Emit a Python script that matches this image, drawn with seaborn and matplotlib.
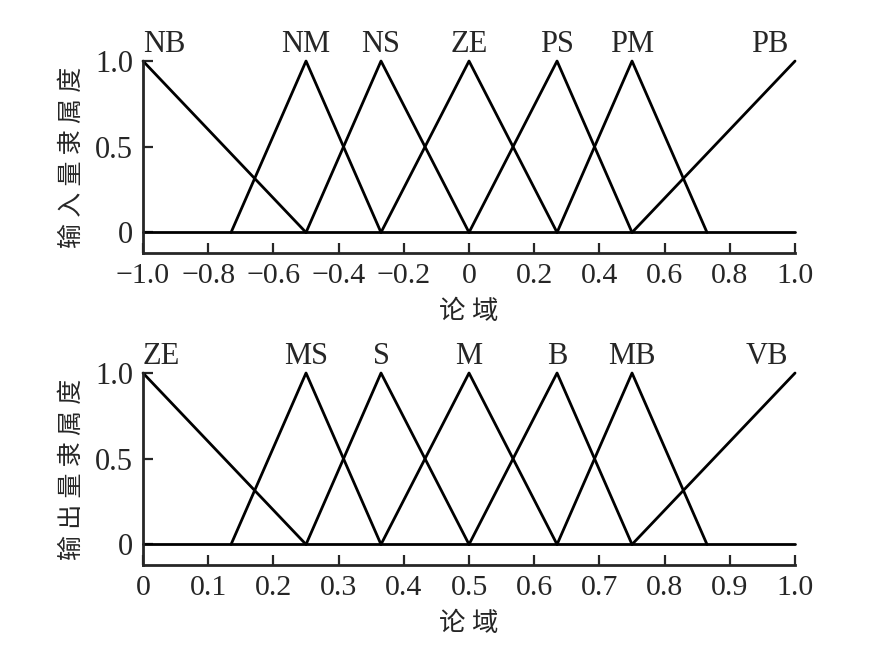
import matplotlib
matplotlib.use("Agg")
import matplotlib.pyplot as plt
import pandas as pd
import seaborn as sns

# membership functions: breakpoints (x) and grades (mu)
in_names = ["NB", "NM", "NS", "ZE", "PS", "PM", "PB"]
in_x = [
    [-1.0, -0.5],
    [-0.73, -0.5, -0.27],
    [-0.5, -0.27, 0.0],
    [-0.27, 0.0, 0.27],
    [0.0, 0.27, 0.5],
    [0.27, 0.5, 0.73],
    [0.5, 1.0],
]
out_names = ["ZE", "MS", "S", "M", "B", "MB", "VB"]
out_x = [
    [0.0, 0.25],
    [0.135, 0.25, 0.365],
    [0.25, 0.365, 0.5],
    [0.365, 0.5, 0.635],
    [0.5, 0.635, 0.75],
    [0.635, 0.75, 0.865],
    [0.75, 1.0],
]
mu_left = [1.0, 0.0]
mu_tri = [0.0, 1.0, 0.0]
mu_right = [0.0, 1.0]

in_ticks = [-1.0, -0.8, -0.6, -0.4, -0.2, 0.0, 0.2, 0.4, 0.6, 0.8, 1.0]
in_ticklabels = ["\u22121.0", "\u22120.8", "\u22120.6", "\u22120.4", "\u22120.2",
                 "0", "0.2", "0.4", "0.6", "0.8", "1.0"]
out_ticks = [0.0, 0.1, 0.2, 0.3, 0.4, 0.5, 0.6, 0.7, 0.8, 0.9, 1.0]
out_ticklabels = ["0", "0.1", "0.2", "0.3", "0.4", "0.5", "0.6", "0.7", "0.8", "0.9", "1.0"]
y_ticks = [0.0, 0.5, 1.0]
y_ticklabels = ["0", "0.5", "1.0"]


def to_frame(names, xs):
    rows = []
    n = len(names)
    for i, (name, x) in enumerate(zip(names, xs)):
        mu = mu_left if i == 0 else (mu_right if i == n - 1 else mu_tri)
        for xv, mv in zip(x, mu):
            rows.append(dict(set=name, x=xv, mu=mv))
    return pd.DataFrame(rows)


sns.set_style("ticks")
plt.rcParams["font.family"] = ["Liberation Serif", "Noto Sans CJK SC"]
plt.rcParams["xtick.direction"] = "in"
plt.rcParams["ytick.direction"] = "in"

fig = plt.figure(figsize=(8.9, 6.55), dpi=100)
ax_in = fig.add_axes([0.1607, 0.6137, 0.7326, 0.2931])
ax_out = fig.add_axes([0.1607, 0.1374, 0.7326, 0.2931])

panels = [
    (ax_in, in_names, in_x, in_ticks, in_ticklabels, "输 入 量 隶 属 度"),
    (ax_out, out_names, out_x, out_ticks, out_ticklabels, "输 出 量 隶 属 度"),
]

lw = 2.0
for ax, names, xs, ticks, ticklabels, ylab in panels:
    df = to_frame(names, xs)
    sns.lineplot(data=df, x="x", y="mu", units="set", estimator=None,
                 color="black", linewidth=lw, sort=False, ax=ax, clip_on=False)
    lo, hi = ticks[0], ticks[-1]
    ax.plot([lo, hi], [0, 0], color="black", linewidth=lw, clip_on=False)

    for i, (name, x) in enumerate(zip(names, xs)):
        if i == 0:
            ax.text(x[0], 1.05, name, ha="left", va="baseline", fontsize=22)
        elif i == len(names) - 1:
            ax.text(x[-1] - 0.01 * (hi - lo), 1.05, name, ha="right", va="baseline", fontsize=22)
        else:
            ax.text(x[1], 1.05, name, ha="center", va="baseline", fontsize=22)

    ax.set_xlim(lo, hi)
    ax.set_ylim(-0.12, 1.0)
    ax.set_xticks(ticks)
    ax.set_xticklabels(ticklabels, fontsize=21.5)
    ax.set_yticks(y_ticks)
    ax.set_yticklabels(y_ticklabels, fontsize=22)
    ax.tick_params(length=7, width=1.6, pad=7)
    ax.set_xlabel("论 域", fontsize=19, labelpad=8)
    ax.set_ylabel(ylab, fontsize=18, labelpad=8)
    sns.despine(ax=ax)
    for s in ["left", "bottom"]:
        ax.spines[s].set_linewidth(lw)

fig.savefig("out.png", dpi=100)
